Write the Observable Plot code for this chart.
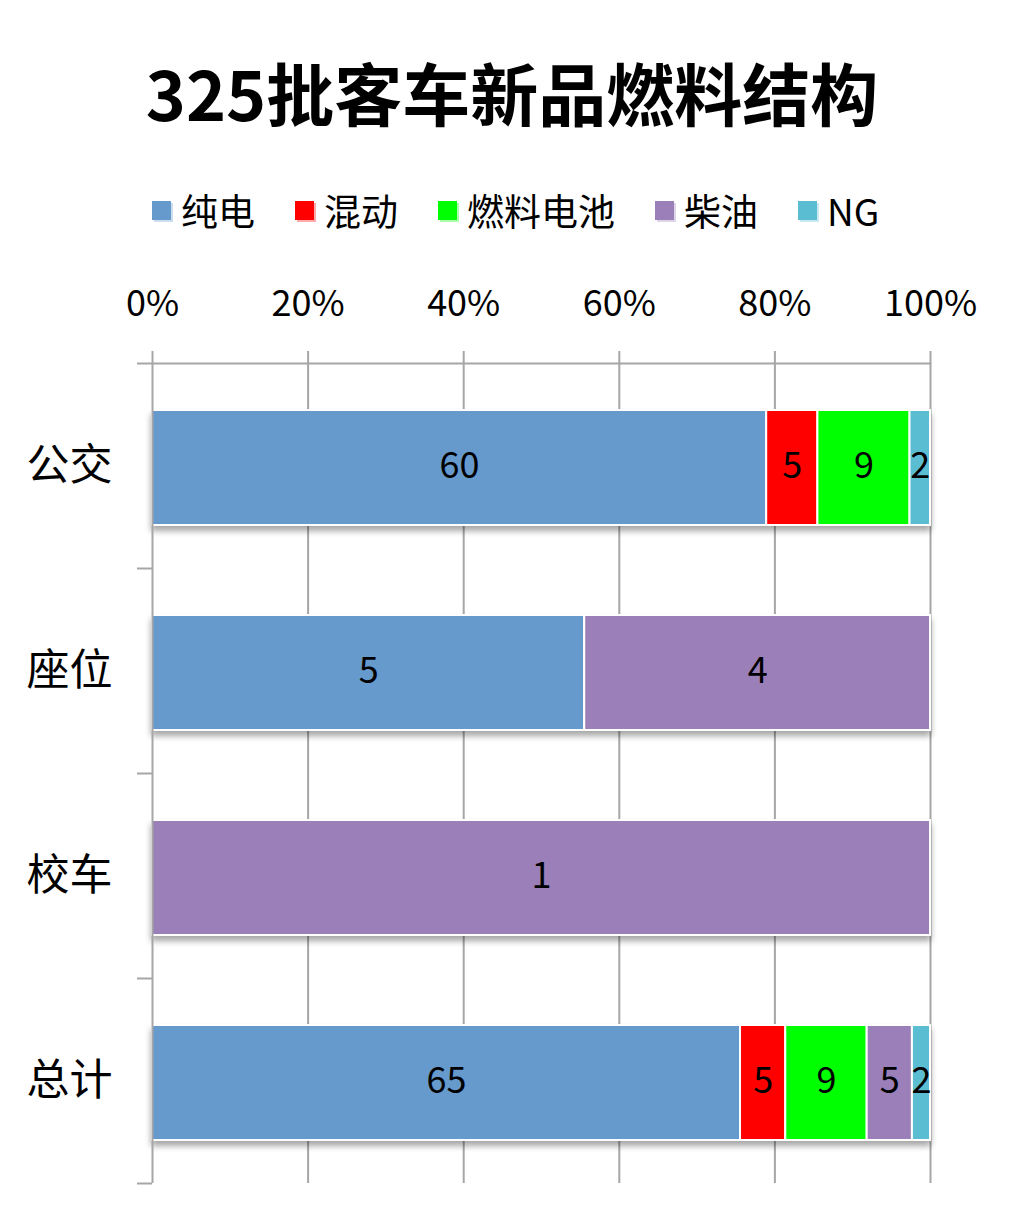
<!DOCTYPE html>
<html><head><meta charset="utf-8">
<script src="https://cdn.jsdelivr.net/npm/d3@7"></script>
<script src="https://cdn.jsdelivr.net/npm/@observablehq/plot@0.6"></script>
<style>
body{margin:0;background:#fff;font-family:"Noto Sans CJK SC",sans-serif;color:#000;}
#wrap{position:relative;width:1024px;height:1228px;overflow:hidden;}
#title{position:absolute;left:0;top:42px;width:1024px;text-align:center;font-size:68px;font-weight:bold;line-height:100px;}
#legend{position:absolute;left:152px;top:188px;display:flex;justify-content:flex-start;gap:40px;font-size:37px;line-height:44px;}
#legend .item{display:flex;align-items:center;}
#legend .sw{width:19px;height:19px;margin-right:10px;}
#chart{position:absolute;left:0;top:250px;}
</style></head>
<body><div id="wrap"><div id="title">325批客车新品燃料结构</div><div id="legend"></div><div id="chart"></div></div>
<script>
const categories = ["公交", "座位", "校车", "总计"];
const fuels = ["纯电", "混动", "燃料电池", "柴油", "NG"];
const colors = ["#6699CC", "#FF0000", "#00FF00", "#9B7FB8", "#5BBDD1"];
const pureElectric = [60, 5, 0, 65];
const hybrid = [5, 0, 0, 5];
const fuelCell = [9, 0, 0, 9];
const diesel = [0, 4, 1, 5];
const ng = [2, 0, 0, 2];
const xTicks = [0, 0.2, 0.4, 0.6, 0.8, 1];

const series = [pureElectric, hybrid, fuelCell, diesel, ng];
const rows = [];
categories.forEach((c, i) => fuels.forEach((f, j) => rows.push({category: c, fuel: f, value: series[j][i]})));
const nonzero = rows.filter(d => d.value > 0);

// legend
const leg = document.getElementById("legend");
fuels.forEach((f, j) => {
  const it = document.createElement("div"); it.className = "item";
  const sw = document.createElement("span"); sw.className = "sw";
  sw.style.background = colors[j];
  sw.style.boxShadow = `2px 2px 0 ${colors[j]}55`;
  const t = document.createElement("span"); t.textContent = f;
  it.appendChild(sw); it.appendChild(t); leg.appendChild(it);
});

const W = 1024, H = 978, mt = 113, mb = 45, ml = 152, mr = 94;
const step = (H - mt - mb) / categories.length;
const grey = "#A6A6A6";
const fmt = d3.format(".0%");

const plot = Plot.plot({
  width: W, height: H, marginTop: mt, marginBottom: mb, marginLeft: ml, marginRight: mr,
  style: {fontFamily: '"Noto Sans CJK SC", sans-serif', fontSize: "36px", color: "#000", background: "transparent"},
  x: {domain: [0, 1], axis: null},
  y: {domain: categories, padding: 0, axis: null},
  color: {domain: fuels, range: colors},
  marks: [
    Plot.ruleX(xTicks.slice(1), {stroke: grey, strokeWidth: 2}),
    Plot.barX(nonzero, Plot.stackX({x: "value", y: "category", fill: "fuel", order: fuels, offset: "normalize",
      insetTop: 47, insetBottom: 43, stroke: "white", strokeWidth: 2})),
    Plot.text(nonzero, Plot.stackX({x: "value", y: "category", z: "fuel", order: fuels, offset: "normalize",
      text: d => String(d.value), fontSize: 36, fill: "#000"})),
    Plot.ruleX([0], {stroke: grey, strokeWidth: 2}),
    Plot.ruleY([categories[0]], {dy: -step / 2, stroke: grey, strokeWidth: 2}),
    Plot.axisX(xTicks, {anchor: "top", tickSize: 13, tickPadding: 35, tickFormat: fmt, stroke: grey, strokeWidth: 2, fill: "#000", fontSize: 36, label: null}),
    Plot.axisY(categories, {anchor: "left", tickSize: 15, dy: -step / 2, tickFormat: () => "", stroke: grey, strokeWidth: 2, label: null}),
    Plot.axisY([categories[categories.length - 1]], {anchor: "left", tickSize: 15, dy: step / 2, tickFormat: () => "", stroke: grey, strokeWidth: 2, label: null}),
    Plot.axisY(categories, {anchor: "left", tickSize: 0, tickPadding: 40, fontSize: 43, fill: "#000", label: null})
  ]
});
plot.querySelectorAll('g[aria-label="bar"]').forEach(g => g.style.filter = "drop-shadow(0px 5px 3px rgba(0,0,0,0.35))");
document.getElementById("chart").appendChild(plot);
</script>
</body></html>
